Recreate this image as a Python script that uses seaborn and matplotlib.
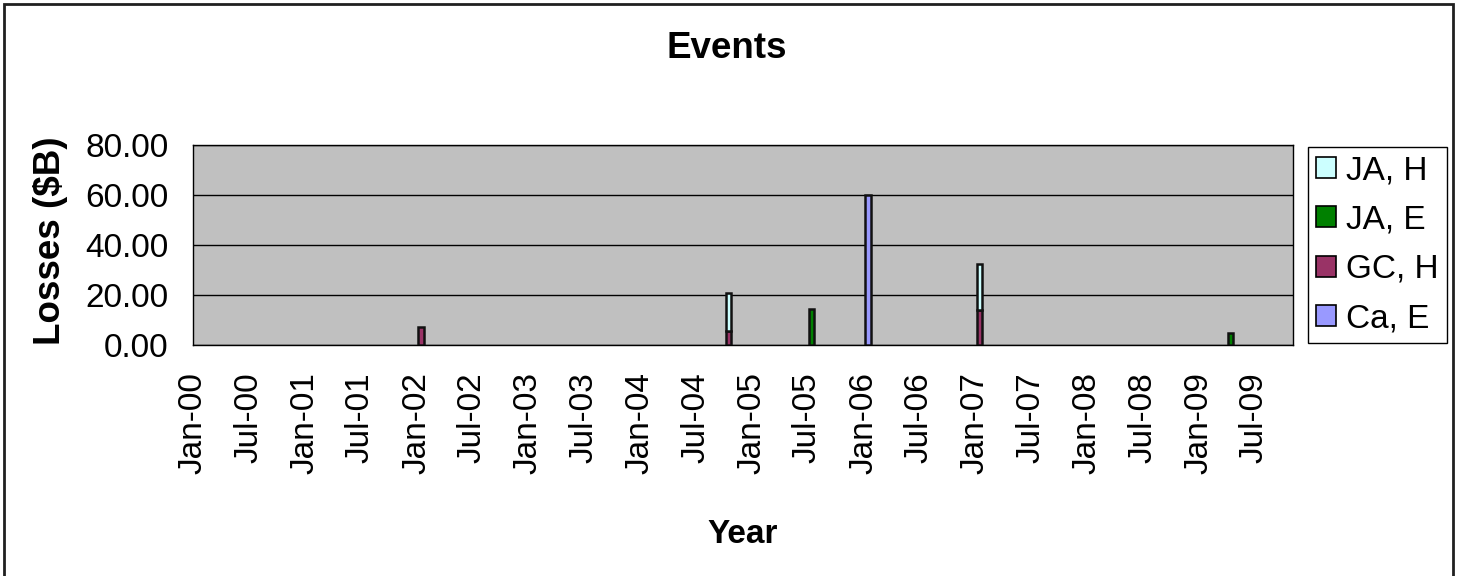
import matplotlib
matplotlib.use("Agg")
import matplotlib.pyplot as plt
import matplotlib.dates as mdates
from matplotlib.patches import Rectangle, Patch
import numpy as np
import pandas as pd
import seaborn as sns

# Event dates and losses ($B) per series
event_dates = ["2002-01-15", "2004-10-15", "2005-07-15", "2006-01-15", "2007-01-15", "2009-04-15"]
ca_e = [0.0, 0.0, 0.0, 60.0, 0.0, 0.0]
gc_h = [7.4, 5.5, 0.0, 0.0, 14.0, 0.0]
ja_e = [0.0, 0.0, 14.3, 0.0, 0.0, 4.9]
ja_h = [0.0, 15.2, 0.0, 0.0, 18.3, 0.0]

series_names = ["Ca, E", "GC, H", "JA, E", "JA, H"]   # stacking order, bottom to top
series_values = [ca_e, gc_h, ja_e, ja_h]
series_colors = ["#9999FF", "#993366", "#008000", "#CCFFFF"]

y_ticks = [0, 20, 40, 60, 80]

sns.set_theme(style="white")
plt.rcParams["font.family"] = ["Liberation Sans", "DejaVu Sans"]
plt.rcParams["text.color"] = "black"

fig = plt.figure(figsize=(14.62, 5.76), dpi=100)
W, H = 1462, 576
ax = fig.add_axes([193 / W, 1 - 345 / H, 1100 / W, 200 / H])
ax.set_facecolor("#C0C0C0")

df = pd.DataFrame({"date": pd.to_datetime(event_dates)})
for name, vals in zip(series_names, series_values):
    df[name] = vals

x = mdates.date2num(df["date"])
bottom = np.zeros(len(df))
for name, color in zip(series_names, series_colors):
    vals = df[name].to_numpy()
    mask = vals > 0
    ax.bar(x[mask], vals[mask], bottom=bottom[mask], width=17,
           color=color, edgecolor="#111111", linewidth=1.8, zorder=3)
    bottom += vals

# Axes ranges and ticks
ax.set_xlim(mdates.date2num(pd.Timestamp("2000-01-01")),
            mdates.date2num(pd.Timestamp("2009-11-04")))
ax.set_ylim(0, 80)
ax.set_yticks(y_ticks)
ax.yaxis.set_major_formatter(matplotlib.ticker.FormatStrFormatter("%.2f"))
tick_dates = pd.date_range("2000-01-01", "2009-07-01", freq="6MS")
ax.set_xticks(mdates.date2num(tick_dates))
ax.set_xticklabels([d.strftime("%b-%y") for d in tick_dates], rotation=90)

ax.grid(axis="y", color="black", linewidth=1.0, zorder=1)
ax.grid(axis="x", visible=False)
for s in ax.spines.values():
    s.set_color("black")
    s.set_linewidth(1.0)
    s.set_visible(True)

ax.tick_params(axis="both", direction="out", length=7.5, width=1.0,
               color="black", labelsize=24, labelcolor="black")
ax.tick_params(axis="x", pad=12)
ax.tick_params(axis="y", pad=10)

# Titles
fig.text(727 / W, 1 - 58 / H, "Events", ha="center", va="baseline",
         fontsize=26.5, fontweight="bold", color="black")
fig.text(743 / W, 1 - 543 / H, "Year", ha="center", va="baseline",
         fontsize=24, fontweight="bold", color="black")
fig.text(50 / W, 1 - 241 / H, "Losses ($B)", ha="center", va="center",
         rotation=90, fontsize=26.5, fontweight="bold", color="black")

# Legend
handles = [Patch(facecolor=c, edgecolor="black", linewidth=1.2, label=n)
           for n, c in zip(series_names, series_colors)][::-1]
leg = fig.legend(handles=handles, loc="upper left",
                 bbox_to_anchor=(1308 / W, 1 - 147 / H),
                 fontsize=24, frameon=True, fancybox=False, shadow=False,
                 handlelength=0.6, handleheight=0.6, handletextpad=0.3,
                 labelspacing=0.55, borderpad=0.25, borderaxespad=0)
leg.get_frame().set_edgecolor("black")
leg.get_frame().set_linewidth(1.0)
leg.get_frame().set_facecolor("white")
leg.get_frame().set_alpha(1)
for t in leg.get_texts():
    t.set_color("black")

# Outer chart border
fig.patches.append(Rectangle((4 / W, -0.01), 1449 / W, 1 - 4 / H + 0.01,
                             transform=fig.transFigure, fill=False,
                             edgecolor="#202020", linewidth=2))

fig.savefig("out.png", dpi=100)
